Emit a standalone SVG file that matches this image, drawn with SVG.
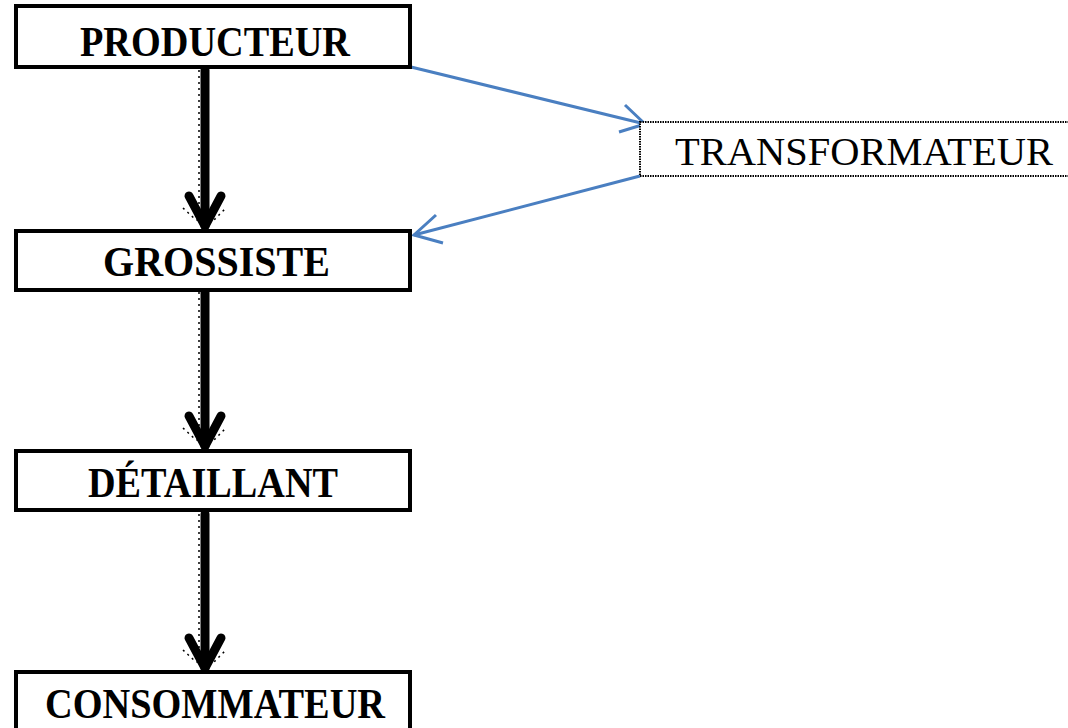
<svg xmlns="http://www.w3.org/2000/svg" width="1068" height="728" viewBox="0 0 1068 728">
<style>
.box{fill:#fff;stroke:#000;stroke-width:4}
.lbl{font-family:"Liberation Serif","Times New Roman",serif;font-weight:bold;font-size:43px;fill:#000}
.lbl2{font-family:"Liberation Serif","Times New Roman",serif;font-size:41px;fill:#000}
.down{stroke:#000;stroke-width:9;fill:none;stroke-linecap:round;stroke-linejoin:round}
.dots{stroke:#000;stroke-width:1.5;stroke-dasharray:2 4;fill:none}
.blue{stroke:#4a7fc1;stroke-width:3;fill:none}
</style>
<rect width="1068" height="728" fill="#fff"/>
<g id="connectors">
  <g>
    <line class="dots" x1="199" y1="70" x2="199" y2="218"/>
    <line class="down" x1="205" y1="70" x2="205" y2="226"/>
    <polyline class="down" points="189,196 205,226 221,196"/>
    <polyline class="dots" points="183,208 196,220 214,220 226,208"/>
  </g>
  <g>
    <line class="dots" x1="199" y1="292" x2="199" y2="440"/>
    <line class="down" x1="205" y1="292" x2="205" y2="446"/>
    <polyline class="down" points="189,416 205,446 221,416"/>
    <polyline class="dots" points="183,428 196,440 214,440 226,428"/>
  </g>
  <g>
    <line class="dots" x1="199" y1="514" x2="199" y2="660"/>
    <line class="down" x1="205" y1="514" x2="205" y2="668"/>
    <polyline class="down" points="189,638 205,668 221,638"/>
    <polyline class="dots" points="183,650 196,662 214,662 226,650"/>
  </g>
  <g>
    <line class="blue" x1="411" y1="67" x2="645" y2="124"/>
    <polyline class="blue" points="625,105 645,124 619,132"/>
    <line class="blue" x1="640" y1="176" x2="414" y2="235"/>
    <polyline class="blue" points="436,215 414,235 443,243"/>
  </g>
</g>
<g id="producteur">
  <rect class="box" x="16" y="6" width="394" height="61"/>
  <text class="lbl" x="80" y="56" textLength="270" lengthAdjust="spacingAndGlyphs">PRODUCTEUR</text>
</g>
<g id="transformateur">
  <rect x="640" y="122" width="440" height="54" fill="#fff" stroke="#000" stroke-width="2" stroke-dasharray="1.5 1"/>
  <text class="lbl2" x="675" y="165" textLength="378" lengthAdjust="spacingAndGlyphs">TRANSFORMATEUR</text>
</g>
<g id="grossiste">
  <rect class="box" x="16" y="231" width="394" height="59"/>
  <text class="lbl" x="103" y="276" textLength="227" lengthAdjust="spacingAndGlyphs">GROSSISTE</text>
</g>
<g id="detaillant">
  <rect class="box" x="16" y="451" width="394" height="59"/>
  <text class="lbl" x="88" y="497" textLength="250" lengthAdjust="spacingAndGlyphs">DÉTAILLANT</text>
</g>
<g id="consommateur">
  <rect class="box" x="16" y="672" width="394" height="70"/>
  <text class="lbl" x="45" y="718" textLength="340" lengthAdjust="spacingAndGlyphs">CONSOMMATEUR</text>
</g>
</svg>
